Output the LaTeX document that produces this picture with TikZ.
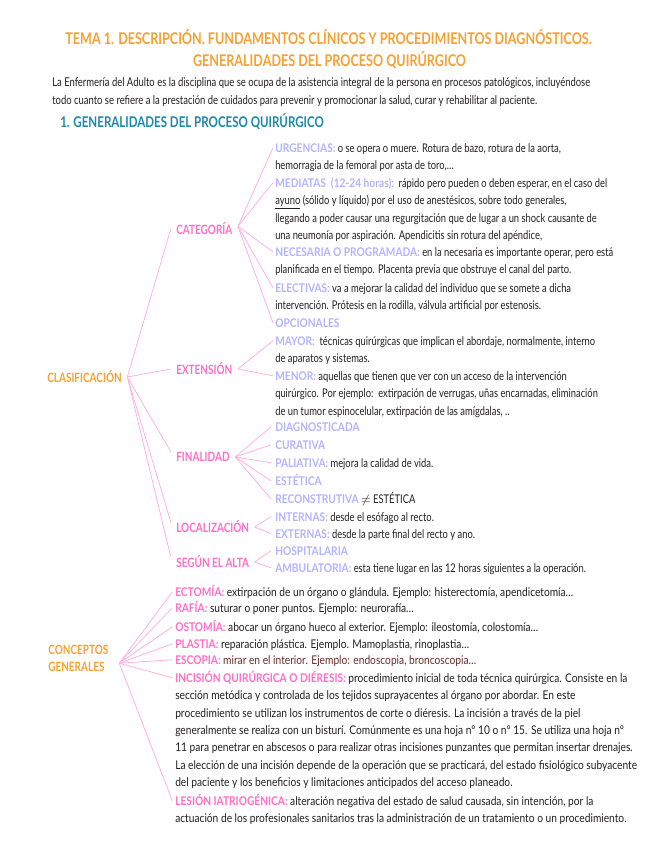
\documentclass[tikz,border=0pt]{standalone}
\usepackage{fontspec}
\setmainfont{Lato}[FakeStretch=0.78]
\newfontfamily\widecond{Lato}[FakeStretch=0.85]
\usetikzlibrary{positioning}
\definecolor{ttlor}{HTML}{F7A132}
\definecolor{hdrbl}{HTML}{1B8AA8}
\definecolor{pk}{HTML}{FF6EC7}
\definecolor{pkline}{HTML}{FFB3E0}
\definecolor{lav}{HTML}{B3B3FF}
\definecolor{brn}{HTML}{6B2A2A}
\definecolor{txt}{HTML}{231F20}
\newcommand{\kl}[1]{\textcolor{lav}{\widecond\textbf{#1}}}
\newcommand{\kp}[1]{\textcolor{pk}{\textbf{#1}}}
\tikzset{
  ttl/.style={anchor=base,inner sep=0pt,text=ttlor,
    font=\fontsize{12.1}{14}\selectfont\bfseries},
  parag/.style={anchor=north west,align=left,inner sep=0pt,text=txt,
    font=\fontsize{9.1}{13.5}\selectfont},
  hdr/.style={anchor=base west,inner sep=0pt,text=hdrbl,
    font=\fontsize{11.1}{13}\selectfont\bfseries},
  mmroot/.style={anchor=west,align=left,inner xsep=4pt,inner ysep=0pt,
    text=ttlor,font=\fontsize{9.6}{13}\selectfont\bfseries},
  mmcat/.style={anchor=west,inner xsep=4pt,inner ysep=0pt,text=pk,
    font=\fontsize{9.6}{13}\selectfont\bfseries},
  mmitem/.style={anchor=north west,align=left,inner sep=0pt,text=txt,
    font=\fontsize{9}{13.05}\selectfont},
  mmwide/.style={mmitem,font=\fontsize{9}{13.05}\selectfont\widecond},
  mmedge/.style={pkline,line width=0.6pt},
}
\begin{document}
\begin{tikzpicture}[x=0.75pt,y=-0.75pt]
  \path[use as bounding box,fill=white] (0,0) rectangle (655,848);
  % title and introduction
  \node[ttl] (t1) at (328.5,45) {TEMA 1. DESCRIPCIÓN. FUNDAMENTOS CLÍNICOS Y PROCEDIMIENTOS DIAGNÓSTICOS.};
  \node[ttl] (t2) at (329.5,67) {GENERALIDADES DEL PROCESO QUIRÚRGICO};
  \node[parag] (intro) at (52,73.4) {\strut La Enfermería del Adulto es la disciplina que se ocupa de la asistencia integral de la persona en procesos patológicos, incluyéndose\\
    todo cuanto se refiere a la prestación de cuidados para prevenir y promocionar la salud, curar y rehabilitar al paciente.};
  \node[hdr] (h1) at (60,128) {1. GENERALIDADES DEL PROCESO QUIRÚRGICO};
  % roots and branches
  \node[mmroot] (clas) at (41.7,377) {CLASIFICACIÓN};
  \node[mmcat] (cat) at (170.7,229) {CATEGORÍA};
  \node[mmcat] (ext) at (170.7,369) {EXTENSIÓN};
  \node[mmcat] (fin) at (170.7,457) {FINALIDAD};
  \node[mmcat] (loc) at (170.7,527) {LOCALIZACIÓN};
  \node[mmcat] (alt) at (170.7,562) {SEGÚN EL ALTA};
  % categoria
  \node[mmitem] (urg) at (275,139.8) {\strut\kl{URGENCIAS:} o se opera o muere. Rotura de bazo, rotura de la aorta,\\
    hemorragia de la femoral por asta de toro,\dots};
  \node[mmitem] (med) at (275,174.8) {\strut\kl{MEDIATAS\ \ (12-24\ horas):}\ \ rápido pero pueden o deben esperar, en el caso del\\
    \underline{ayuno} (sólido y líquido) por el uso de anestésicos, sobre todo generales,\\
    llegando a poder causar una regurgitación que de lugar a un shock causante de\\
    una neumonía por aspiración. Apendicitis sin rotura del apéndice,};
  \node[mmitem] (nec) at (275,243.8) {\strut\kl{NECESARIA O PROGRAMADA:} en la necesaria es importante operar, pero está\\
    planificada en el tiempo. Placenta previa que obstruye el canal del parto.};
  \node[mmitem] (ele) at (275,279.8) {\strut\kl{ELECTIVAS:} va a mejorar la calidad del individuo que se somete a dicha\\
    intervención. Prótesis en la rodilla, válvula artificial por estenosis.};
  \node[mmitem] (opc) at (275,314.8) {\strut\kl{OPCIONALES}};
  % extension
  \node[mmitem] (may) at (275,332.8) {\strut\kl{MAYOR:}\ \ técnicas quirúrgicas que implican el abordaje, normalmente, interno\\
    de aparatos y sistemas.};
  \node[mmitem] (men) at (275,367.8) {\strut\kl{MENOR:} aquellas que tienen que ver con un acceso de la intervención\\
    quirúrgico. Por ejemplo:\ \ extirpación de verrugas, uñas encarnadas, eliminación\\
    de un tumor espinocelular, extirpación de las amígdalas, ..};
  % finalidad
  \node[mmitem] (dia) at (275,418.8) {\strut\kl{DIAGNOSTICADA}};
  \node[mmitem] (cur) at (275,436.8) {\strut\kl{CURATIVA}};
  \node[mmitem] (pal) at (275,454.8) {\strut\kl{PALIATIVA:} mejora la calidad de vida.};
  \node[mmitem] (est) at (275,472.8) {\strut\kl{ESTÉTICA}};
  \node[mmitem] (rec) at (275,490.8) {\strut\kl{RECONSTRUTIVA} $\neq$ ESTÉTICA};
  % localizacion y alta
  \node[mmitem] (int) at (275,508.8) {\strut\kl{INTERNAS:} desde el esófago al recto.};
  \node[mmitem] (exr) at (275,525.8) {\strut\kl{EXTERNAS:} desde la parte final del recto y ano.};
  \node[mmitem] (hos) at (275,542.8) {\strut\kl{HOSPITALARIA}};
  \node[mmitem] (amb) at (275,559.8) {\strut\kl{AMBULATORIA:} esta tiene lugar en las 12 horas siguientes a la operación.};
  % conceptos generales
  \node[mmroot] (conc) at (42.7,658.5) {CONCEPTOS\\GENERALES};
  \node[mmwide] (ect) at (175,583.8) {\strut\kp{ECTOMÍA:} extirpación de un órgano o glándula. Ejemplo: histerectomía, apendicetomía\dots};
  \node[mmwide] (raf) at (175,599.8) {\strut\kp{RAFÍA:} suturar o poner puntos. Ejemplo: neurorafía\dots};
  \node[mmwide] (ost) at (175,618.8) {\strut\kp{OSTOMÍA:} abocar un órgano hueco al exterior. Ejemplo: ileostomía, colostomía\dots};
  \node[mmwide] (pla) at (175,635.8) {\strut\kp{PLASTIA:} reparación plástica. Ejemplo. Mamoplastia, rinoplastia\dots};
  \node[mmwide] (esc) at (175,651.8) {\strut\kp{ESCOPIA:} \textcolor{brn}{mirar en el interior. Ejemplo: endoscopia, broncoscopia\dots}};
  \node[mmwide] (inc) at (175,669.8) {\strut\kp{INCISIÓN QUIRÚRGICA O DIÉRESIS:} procedimiento inicial de toda técnica quirúrgica. Consiste en la\\
    sección metódica y controlada de los tejidos suprayacentes al órgano por abordar. En este\\
    procedimiento se utilizan los instrumentos de corte o diéresis. La incisión a través de la piel\\
    generalmente se realiza con un bisturí. Comúnmente es una hoja nº 10 o nº 15. Se utiliza una hoja nº\\
    11 para penetrar en abscesos o para realizar otras incisiones punzantes que permitan insertar drenajes.\\
    La elección de una incisión depende de la operación que se practicará, del estado fisiológico subyacente\\
    del paciente y los beneficios y limitaciones anticipados del acceso planeado.};
  \node[mmwide] (les) at (175,792.8) {\strut\kp{LESIÓN IATRIOGÉNICA:} alteración negativa del estado de salud causada, sin intención, por la\\
    actuación de los profesionales sanitarios tras la administración de un tratamiento o un procedimiento.};
  % branches
  \draw[mmedge] (clas.east) -- (cat.west);
  \draw[mmedge] (clas.east) -- (ext.west);
  \foreach \b in {fin,loc,alt}
    \draw[mmedge] (clas.east) -- ([yshift=4pt]\b.west);
  \foreach \i in {urg,med,nec,ele,opc}
    \draw[mmedge] ([yshift=2pt]cat.east) -- ([shift={(-1.5pt,-6pt)}]\i.north west);
  \foreach \i in {may,men}
    \draw[mmedge] (ext.east) -- ([shift={(-1.5pt,-6pt)}]\i.north west);
  \foreach \i in {dia,cur,pal,est,rec}
    \draw[mmedge] (fin.east) -- ([shift={(-3pt,-6pt)}]\i.north west);
  \foreach \i in {int,exr}
    \draw[mmedge] (loc.east) -- ([shift={(-3pt,-6pt)}]\i.north west);
  \foreach \i in {hos,amb}
    \draw[mmedge] (alt.east) -- ([shift={(-3pt,-6pt)}]\i.north west);
  \foreach \i in {ect,raf,ost,pla,esc,inc,les}
    \draw[mmedge] ([shift={(4pt,-3.5pt)}]conc.east) -- ([shift={(-2pt,-6pt)}]\i.north west);
\end{tikzpicture}
\end{document}
